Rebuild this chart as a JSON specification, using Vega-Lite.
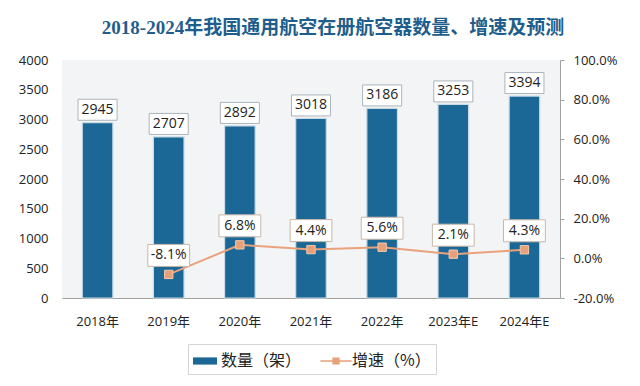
{
  "$schema": "https://vega.github.io/schema/vega-lite/v6.json",
  "width": 498,
  "height": 238,
  "autosize": "none",
  "padding": {"left": 62, "top": 60, "right": 80, "bottom": 88},
  "background": "#ffffff",
  "config": {
    "view": {"fill": "#f3f4f5", "stroke": null},
    "font": "Noto Sans CJK SC",
    "axis": {"labelFont": "Open Sans, Noto Sans CJK SC", "labelColor": "#222222", "labelFontSize": 13, "title": null, "grid": false}
  },
  "title": {
    "text": "2018-2024年我国通用航空在册航空器数量、增速及预测",
    "font": "Liberation Serif, Noto Sans CJK SC",
    "fontSize": 19,
    "fontWeight": "bold",
    "color": "#1F5E8C",
    "anchor": "middle",
    "dx": 22,
    "offset": 16
  },
  "datasets": {
    "main": [
      {"year": "2018年", "count": 2945, "growth": null},
      {"year": "2019年", "count": 2707, "growth": -0.081},
      {"year": "2020年", "count": 2892, "growth": 0.068},
      {"year": "2021年", "count": 3018, "growth": 0.044},
      {"year": "2022年", "count": 3186, "growth": 0.056},
      {"year": "2023年E", "count": 3253, "growth": 0.021},
      {"year": "2024年E", "count": 3394, "growth": 0.043}
    ],
    "legend": [
      {"series": "数量（架）"},
      {"series": "增速（%）"}
    ]
  },
  "data": {"name": "main"},
  "encoding": {
    "x": {
      "field": "year", "type": "nominal", "sort": null,
      "scale": {"paddingInner": 0.57, "paddingOuter": 0.285},
      "axis": {"labelAngle": 0, "ticks": false, "domainColor": "#a0a0a0", "labelPadding": 17, "labelFontSize": 13}
    }
  },
  "layer": [
    {
      "encoding": {
        "y": {
          "field": "count", "type": "quantitative",
          "scale": {"domain": [0, 4000], "nice": false},
          "axis": {"values": [0, 500, 1000, 1500, 2000, 2500, 3000, 3500, 4000], "domain": false, "ticks": false, "labelPadding": 14, "format": "d"}
        }
      },
      "layer": [
        {"mark": {"type": "bar", "color": "#1B6796", "stroke": "#c9dbe6", "strokeWidth": 1.2}},
        {"mark": {"type": "point", "shape": "M-1.86,-1H1.86V1H-1.86Z", "size": 441, "filled": true, "fill": "#ffffff", "stroke": "#a9b4bc", "strokeWidth": 1, "opacity": 1, "yOffset": -13}},
        {"mark": {"type": "text", "yOffset": -13, "baseline": "middle", "fontSize": 14, "color": "#222222", "font": "Open Sans"},
         "encoding": {"text": {"field": "count", "type": "quantitative", "format": "d"}}}
      ]
    },
    {
      "encoding": {
        "y": {
          "field": "growth", "type": "quantitative",
          "scale": {"domain": [-0.2, 1.0], "nice": false},
          "axis": {"orient": "right", "values": [-0.2, 0, 0.2, 0.4, 0.6, 0.8, 1.0], "format": ".1%", "labelExpr": "replace(datum.label, '\u2212', '-')", "domainColor": "#a0a0a0", "tickColor": "#a0a0a0", "tickSize": 4, "labelPadding": 9}
        }
      },
      "layer": [
        {"mark": {"type": "line", "color": "#E9A27C", "strokeWidth": 2}},
        {"mark": {"type": "point", "shape": "square", "size": 70, "filled": true, "fill": "#E6A07A", "stroke": "#f3c9ad", "strokeWidth": 1, "opacity": 1}},
        {"mark": {"type": "point", "shape": "M-1.9,-1H1.9V1H-1.9Z", "size": 484, "filled": true, "fill": "#ffffff", "stroke": "#c9b6a8", "strokeWidth": 1, "opacity": 1, "yOffset": -19}},
        {"mark": {"type": "text", "yOffset": -19, "baseline": "middle", "fontSize": 14, "color": "#222222", "font": "Open Sans",
                  "text": {"expr": "replace(format(datum.growth, '.1%'), '\u2212', '-')"}}},
        {
          "data": {"name": "legend"},
          "mark": {"type": "point", "filled": true, "opacity": 0},
          "encoding": {
            "x": {"value": 0},
            "y": {"value": 0},
            "color": {
              "field": "series", "type": "nominal",
              "scale": {"domain": ["数量（架）", "增速（%）"], "range": ["#1B6796", "#E6A07A"]},
              "legend": {
                "title": null, "orient": "none", "legendX": 126, "legendY": 284, "direction": "horizontal",
                "strokeColor": "#d4d4d4", "padding": 5, "labelFontSize": 16, "labelFont": "Noto Sans CJK SC", "labelColor": "#222222",
                "symbolSize": 576, "symbolOpacity": 1, "symbolStrokeWidth": 0, "columnPadding": 18, "labelOffset": 4
              }
            },
            "shape": {
              "field": "series", "type": "nominal",
              "scale": {"domain": ["数量（架）", "增速（%）"], "range": ["M-1,-0.3H1V0.3H-1Z", "M-1.3,-0.07H1.3V0.07H-1.3Z M-0.3,-0.3H0.3V0.3H-0.3Z"]},
              "legend": null
            }
          }
        }
      ]
    }
  ],
  "resolve": {"scale": {"y": "independent"}}
}
